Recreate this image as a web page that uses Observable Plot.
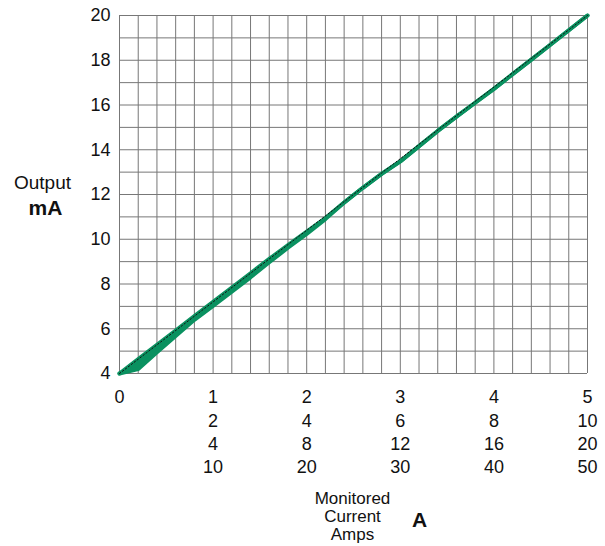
<!DOCTYPE html>
<html>
<head>
<meta charset="utf-8">
<script src="https://cdn.jsdelivr.net/npm/d3@7"></script>
<script src="https://cdn.jsdelivr.net/npm/@observablehq/plot@0.6"></script>
<style>
  html, body { margin: 0; padding: 0; background: #fff; }
  svg { font-family: "Liberation Sans", Arial, Helvetica, sans-serif; }
  .tick-lab text, .tick-lab { font-size: 18px !important; fill: #111; }
  .lab-out text, .lab-out { font-size: 19px !important; }
  .lab-ma text, .lab-ma { font-size: 21px !important; font-weight: bold; }
  .lab-mon text, .lab-mon { font-size: 17px !important; }
  .lab-a text, .lab-a { font-size: 21px !important; font-weight: bold; }
</style>
</head>
<body>
<div id="chart"></div>
<script>
// ---- data ----
const bandX     = [0, 0.2, 0.4, 0.6, 0.8, 1.0, 1.2, 1.4, 1.6, 1.8, 2.0, 2.2, 2.4, 2.6, 2.8, 3.0, 3.2, 3.4, 3.6, 3.8, 4.0, 4.2, 4.4, 4.6, 4.8, 5.0];
const bandUpper = [4.0, 4.64, 5.28, 5.92, 6.57, 7.2, 7.84, 8.48, 9.12, 9.74, 10.34, 10.95, 11.64, 12.3, 12.92, 13.48, 14.16, 14.84, 15.48, 16.1, 16.72, 17.38, 18.03, 18.68, 19.34, 20.0];
const bandLower = [4.0, 4.2, 4.95, 5.68, 6.4, 7.02, 7.66, 8.3, 8.97, 9.62, 10.24, 10.9, 11.64, 12.3, 12.92, 13.48, 14.16, 14.84, 15.48, 16.1, 16.72, 17.38, 18.03, 18.68, 19.34, 20.0];
const idealX = [0, 5];
const idealY = [4, 20];
const xTicks = [0, 1, 2, 3, 4, 5];
const xRow1 = ["0", "1", "2", "3", "4", "5"];
const xRow2 = ["", "2", "4", "6", "8", "10"];
const xRow3 = ["", "4", "8", "12", "16", "20"];
const xRow4 = ["", "10", "20", "30", "40", "50"];
const yTicks = [4, 6, 8, 10, 12, 14, 16, 18, 20];
const xGrid = d3.range(0, 26).map(i => i / 5);
const yGrid = d3.range(4, 21);

const band = bandX.map((x, i) => ({x, upper: bandUpper[i], lower: bandLower[i]}));
const ideal = idealX.map((x, i) => ({x, y: idealY[i]}));
const xLabel = new Map(xTicks.map((t, i) => [t, [xRow1[i], xRow2[i], xRow3[i], xRow4[i]].filter(s => s).join("\n")]));

const green = "#0a9160";

const chart = Plot.plot({
  width: 605,
  height: 546,
  marginLeft: 119,
  marginRight: 18,
  marginTop: 15,
  marginBottom: 173,
  style: {fontFamily: '"Liberation Sans", Arial, Helvetica, sans-serif', color: "#111", background: "#fff"},
  x: {domain: [0, 5]},
  y: {domain: [4, 20]},
  marks: [
    Plot.ruleX(xGrid, {stroke: "#777", strokeWidth: 1}),
    Plot.ruleY(yGrid, {stroke: "#777", strokeWidth: 1}),
    Plot.areaY(band, {x: "x", y1: "lower", y2: "upper", fill: green}),
    Plot.line(band, {x: "x", y: "upper", stroke: green, strokeWidth: 4}),
    Plot.line(band, {x: "x", y: "lower", stroke: green, strokeWidth: 4}),
    Plot.line(ideal, {x: "x", y: "y", stroke: "#111", strokeWidth: 1, strokeDasharray: "1.5,2.2"}),
    Plot.axisY(yTicks, {tickSize: 0, tickPadding: 9, fontSize: 18, label: null, className: "tick-lab"}),
    Plot.axisX(xTicks, {tickSize: 0, tickPadding: 13, fontSize: 18, lineHeight: 1.3, label: null, className: "tick-lab", tickFormat: d => xLabel.get(d)}),
    Plot.text(["Output"], {frameAnchor: "left", dx: -77, dy: -12, textAnchor: "middle", fontSize: 19, className: "lab-out"}),
    Plot.text(["mA"], {frameAnchor: "left", dx: -74, dy: 14, textAnchor: "middle", fontSize: 21, fontWeight: "bold", className: "lab-ma"}),
    Plot.text(["Monitored\nCurrent\nAmps"], {frameAnchor: "bottom", dx: -1, dy: 143, lineAnchor: "middle", textAnchor: "middle", fontSize: 17, lineHeight: 1.05, className: "lab-mon"}),
    Plot.text(["A"], {frameAnchor: "bottom", dx: 66, dy: 147, lineAnchor: "middle", textAnchor: "middle", fontSize: 21, fontWeight: "bold", className: "lab-a"})
  ]
});
document.getElementById("chart").appendChild(chart);
</script>
</body>
</html>
